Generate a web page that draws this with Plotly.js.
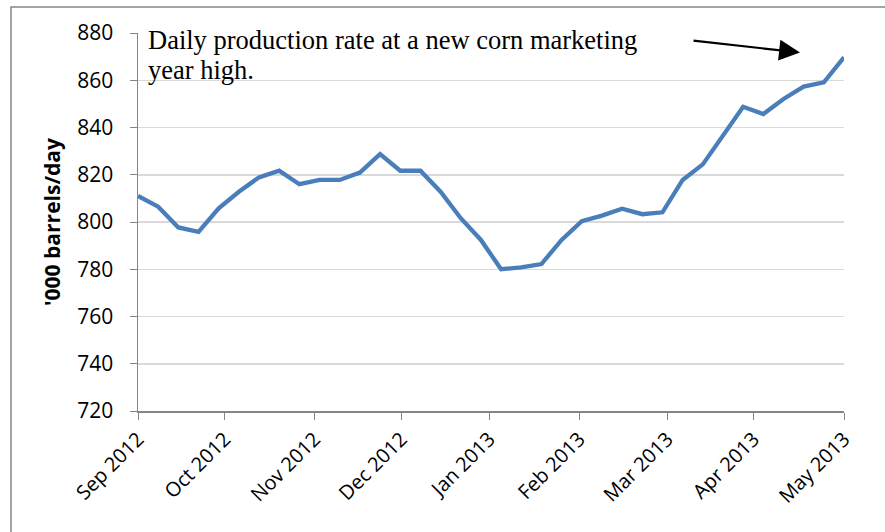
<!DOCTYPE html>
<html>
<head>
<meta charset="utf-8">
<script src="https://cdn.plot.ly/plotly-3.0.1.min.js"></script>
<style>html,body{margin:0;padding:0;background:#fff;}#chart{width:885px;height:532px;}</style>
</head>
<body>
<div id="chart"></div>
<script>
// Week-ending dates (categories)
var weeks = [
  "2012-09-07","2012-09-14","2012-09-21","2012-09-28",
  "2012-10-05","2012-10-12","2012-10-19","2012-10-26",
  "2012-11-02","2012-11-09","2012-11-16","2012-11-23","2012-11-30",
  "2012-12-07","2012-12-14","2012-12-21","2012-12-28",
  "2013-01-04","2013-01-11","2013-01-18","2013-01-25",
  "2013-02-01","2013-02-08","2013-02-15","2013-02-22",
  "2013-03-01","2013-03-08","2013-03-15","2013-03-22","2013-03-29",
  "2013-04-05","2013-04-12","2013-04-19","2013-04-26",
  "2013-05-03","2013-05-10"
];
// Daily ethanol production, '000 barrels/day
var production = [
  811.0, 806.5, 797.7, 795.8,
  805.8, 812.8, 818.9, 821.7,
  816.0, 817.8, 817.8, 820.9, 828.7,
  821.7, 821.7, 812.8, 801.6,
  792.4, 780.0, 780.8, 782.2,
  792.4, 800.3, 802.7, 805.6,
  803.3, 804.1, 817.8, 824.4, 836.8,
  848.8, 845.7, 852.1, 857.3,
  859.1, 869.7
];
// Month tick labels
var monthLabels = ["Sep 2012","Oct 2012","Nov 2012","Dec 2012","Jan 2013","Feb 2013","Mar 2013","Apr 2013","May 2013"];
var monthTickPos = [0, 4.3, 8.75, 13.05, 17.42, 21.88, 26.24, 30.52, 35];

var yTitle = "'000 barrels/day";
var noteLines = ["Daily production rate at a new corn marketing", "year high."];

var axisGray = "#868686";
var gridGray = "#d9d9d9";
var font = "Open Sans, Noto Sans, sans-serif";
var serif = "Liberation Serif, Times New Roman, serif";

var trace = {
  x: weeks,
  y: production,
  type: "scatter",
  mode: "lines",
  line: {color: "#4a7ebb", width: 4.3},
  hoverinfo: "x+y"
};

function py(p) { return (411 - p) / 378; }
function px(p) { return (p - 138) / 706; }

var layout = {
  width: 885, height: 532,
  margin: {l: 138, r: 41, t: 33, b: 121},
  paper_bgcolor: "#ffffff",
  plot_bgcolor: "#ffffff",
  showlegend: false,
  font: {family: font, color: "#000000", size: 20},
  xaxis: {
    type: "category",
    range: [0, 35],
    tickmode: "array",
    tickvals: monthTickPos,
    ticktext: monthLabels,
    tickangle: -45,
    tickfont: {family: font, size: 20, color: "#000"},
    ticks: "outside", ticklen: 7, tickcolor: axisGray, tickwidth: 1,
    showline: true, linecolor: axisGray, linewidth: 1.5,
    showgrid: false, zeroline: false,
    fixedrange: true
  },
  yaxis: {
    range: [720, 880],
    tick0: 720, dtick: 20,
    tickfont: {family: font, size: 21, color: "#000"},
    ticks: "outside", ticklen: 7, tickcolor: axisGray, tickwidth: 1,
    ticklabelstandoff: 12,
    showline: true, linecolor: axisGray, linewidth: 1.5,
    showgrid: true, gridcolor: gridGray, gridwidth: 1.5,
    zeroline: false,
    title: {text: yTitle, font: {family: font, size: 21, color: "#000", weight: "bold"}, standoff: 11},
    fixedrange: true
  },
  shapes: [{
    type: "rect", xref: "paper", yref: "paper",
    x0: px(11), x1: px(900),
    y0: py(560), y1: py(7),
    line: {color: axisGray, width: 1.5}, fillcolor: "rgba(0,0,0,0)", layer: "below"
  }],
  annotations: [
    {
      xref: "paper", yref: "paper",
      x: px(146), y: py(23),
      xanchor: "left", yanchor: "top", align: "left",
      text: noteLines[0], showarrow: false,
      font: {family: serif, size: 26.5, color: "#000"}
    },
    {
      xref: "paper", yref: "paper",
      x: px(146), y: py(53),
      xanchor: "left", yanchor: "top", align: "left",
      text: noteLines[1], showarrow: false,
      font: {family: serif, size: 26.5, color: "#000"}
    },
    {
      xref: "paper", yref: "paper",
      x: px(800), y: py(52.5),
      ax: -108, ay: -12, axref: "pixel", ayref: "pixel",
      text: "", showarrow: true,
      arrowhead: 2, arrowsize: 1.9, arrowwidth: 2.2, arrowcolor: "#000"
    }
  ]
};

Plotly.newPlot("chart", [trace], layout, {displayModeBar: false, staticPlot: true});
</script>
</body>
</html>
